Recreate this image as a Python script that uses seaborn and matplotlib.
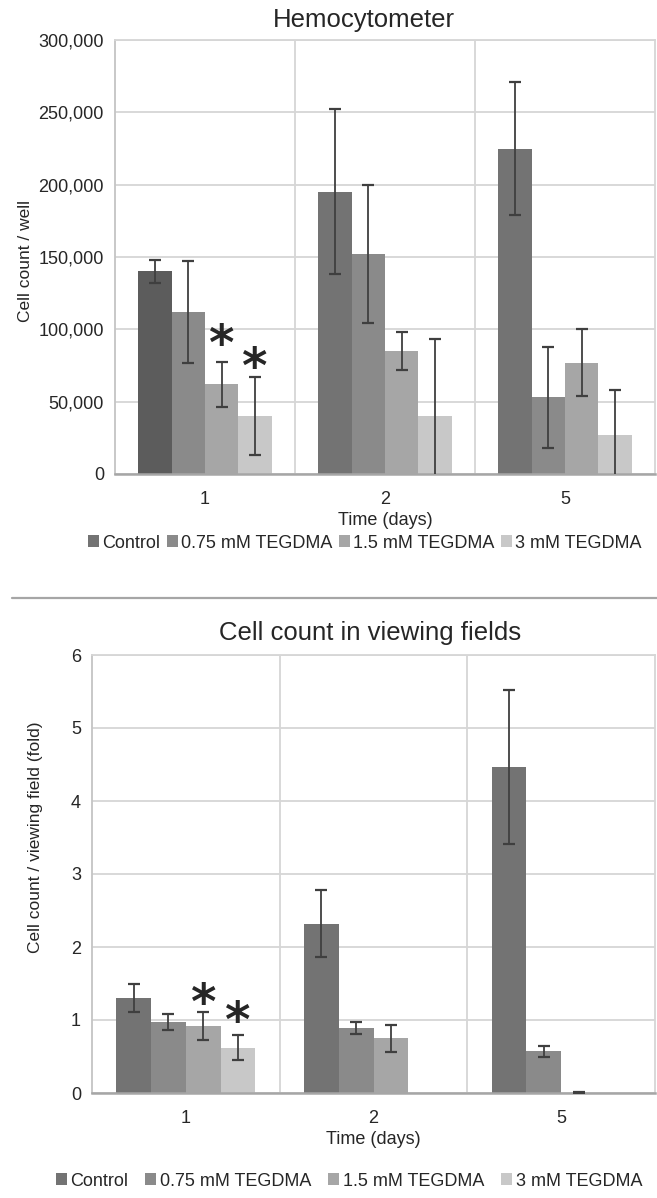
import numpy as np
import pandas as pd
import matplotlib
matplotlib.use('Agg')
import matplotlib.pyplot as plt
from matplotlib.lines import Line2D
from matplotlib.ticker import FuncFormatter
import seaborn as sns

sns.set_style('white')
plt.rcParams['font.family'] = ['Liberation Sans', 'DejaVu Sans']

days = ['1', '2', '5']
groups = ['Control', '0.75 mM TEGDMA', '1.5 mM TEGDMA', '3 mM TEGDMA']
colors = ['#737373', '#8a8a8a', '#a6a6a6', '#c8c8c8']

# Hemocytometer (cells / well), one row per group, one column per day
hemo_mean = [[140000, 195000, 225000],
             [112000, 152000, 53000],
             [62000, 85000, 77000],
             [40000, 40000, 27000]]
hemo_err = [[8000, 57000, 46000],
            [35500, 47500, 35000],
            [15500, 13000, 23000],
            [27000, 53000, 31000]]
hemo_ticks = [0, 50000, 100000, 150000, 200000, 250000, 300000]
hemo_star_groups = [2, 3]       # significant bars at day 1
hemo_star_y = [105000, 89000]   # top of asterisks

# Cell count in viewing fields (fold)
view_mean = [[1.30, 2.32, 4.47],
             [0.97, 0.89, 0.57],
             [0.92, 0.75, 0.0],
             [0.62, 0.0, 0.0]]
view_err = [[0.195, 0.46, 1.055],
            [0.11, 0.085, 0.075],
            [0.195, 0.185, 0.01],
            [0.17, np.nan, np.nan]]
view_ticks = [0, 1, 2, 3, 4, 5, 6]
view_star_groups = [2, 3]
view_star_y = [1.54, 1.29]


def to_long(mean):
    rows = []
    for g, vals in zip(groups, mean):
        for d, v in zip(days, vals):
            rows.append({'day': d, 'group': g, 'value': v})
    return pd.DataFrame(rows)


def draw_panel(ax, mean, err, ticks, star_groups, star_y, ylabel, fmt):
    df = to_long(mean)
    sns.barplot(data=df, x='day', y='value', hue='group', order=days,
                hue_order=groups, palette=colors, width=0.74, linewidth=0,
                saturation=1, errorbar=None, ax=ax)
    bars = list(ax.containers)
    # error bars on each bar
    for gi, cont in enumerate(bars):
        for di, bar in enumerate(cont):
            e = err[gi][di]
            if np.isnan(e):
                continue
            ax.errorbar(bar.get_x() + bar.get_width() / 2, bar.get_height(), yerr=e,
                        fmt='none', ecolor='#3f3f3f', elinewidth=1.3,
                        capsize=4.5, capthick=1.6, zorder=4)
    for gi, sy in zip(star_groups, star_y):
        bar = bars[gi][0]
        ax.text(bar.get_x() + bar.get_width() / 2, sy, '*', ha='center', va='top',
                fontsize=35, fontweight='bold', family='DejaVu Sans', zorder=5)

    ax.set_xlim(-0.5, 2.5)
    ax.set_ylim(ticks[0], ticks[-1])
    ax.set_yticks(ticks)
    ax.yaxis.set_major_formatter(FuncFormatter(fmt))
    ax.set_xticks([0.5, 1.5], minor=True)
    ax.grid(axis='y', which='major', color='#d6d6d6', lw=1.3)
    ax.grid(axis='x', which='minor', color='#d6d6d6', lw=1.3)
    ax.set_axisbelow(True)
    for s in ['top', 'right']:
        ax.spines[s].set_color('#d6d6d6')
        ax.spines[s].set_linewidth(1.3)
    ax.spines['left'].set_color('#c4c4c4')
    ax.spines['left'].set_linewidth(1.3)
    ax.spines['bottom'].set_color('#a6a6a6')
    ax.spines['bottom'].set_linewidth(1.8)
    ax.tick_params(axis='both', which='both', length=0, labelsize=13)
    ax.tick_params(axis='y', pad=8)
    ax.tick_params(axis='x', pad=12)
    ax.set_xlabel('Time (days)', fontsize=13, labelpad=3)
    ax.set_ylabel(ylabel, fontsize=12.5)
    return bars


fig = plt.figure(figsize=(6.57, 11.98), dpi=100)
W, H = 657, 1198

ax1 = fig.add_axes([115 / W, 1 - 474 / H, 540 / W, 434 / H])
bars1 = draw_panel(ax1, hemo_mean, hemo_err, hemo_ticks, hemo_star_groups, hemo_star_y,
                   'Cell count / well', lambda v, p: f'{int(v):,}')
bars1[0][0].set_facecolor('#5c5c5c')
ax1.yaxis.set_label_coords(-0.152, 0.49)
h, l = ax1.get_legend_handles_labels()
ax1.legend(h, l, loc='center', bbox_to_anchor=(365 / W, 1 - 543 / H),
           bbox_transform=fig.transFigure, ncol=4, frameon=False, fontsize=13,
           handlelength=0.6, handleheight=0.6, handletextpad=0.2, columnspacing=0.35)
fig.text(364 / W, 1 - 20 / H, 'Hemocytometer', ha='center', va='center', fontsize=18.5)

fig.add_artist(Line2D([12 / W, 1], [1 - 598 / H, 1 - 598 / H], transform=fig.transFigure,
                      color='#a6a6a6', lw=1.6))

ax2 = fig.add_axes([92 / W, 1 - 1093 / H, 563 / W, 438 / H])
draw_panel(ax2, view_mean, view_err, view_ticks, view_star_groups, view_star_y,
           'Cell count / viewing field (fold)', lambda v, p: f'{v:g}')
ax2.yaxis.set_label_coords(-0.087, 0.583)
h, l = ax2.get_legend_handles_labels()
ax2.legend(h, l, loc='center', bbox_to_anchor=(349 / W, 1 - 1181 / H),
           bbox_transform=fig.transFigure, ncol=4, frameon=False, fontsize=13,
           handlelength=0.6, handleheight=0.6, handletextpad=0.2, columnspacing=0.95)
fig.text(370 / W, 1 - 633 / H, 'Cell count in viewing fields', ha='center', va='center',
         fontsize=18.5)

fig.savefig('out.png', dpi=100, facecolor='white')
